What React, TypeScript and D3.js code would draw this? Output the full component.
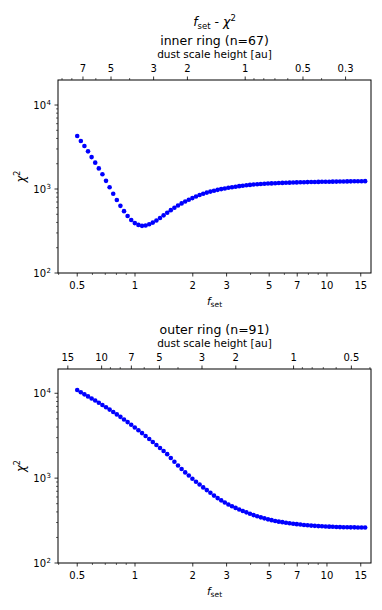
import * as d3 from "d3";

// model grid of the settling parameter
const fSet = [
  0.5, 0.5221, 0.5451, 0.5691, 0.5942, 0.6204, 0.6478, 0.6764, 0.7063, 0.7374,
  0.77, 0.804, 0.8394, 0.8765, 0.9152, 0.9556, 0.9976, 1.0417, 1.0877, 1.1357,
  1.1858, 1.2381, 1.2927, 1.3497, 1.4093, 1.4714, 1.5364, 1.6041, 1.6749, 1.7488,
  1.826, 1.9066, 1.9907, 2.0784, 2.1701, 2.2659, 2.3659, 2.4702, 2.5792, 2.693,
  2.8117, 2.9358, 3.0653, 3.2006, 3.3418, 3.4892, 3.6432, 3.8039, 3.9716, 4.1469,
  4.3298, 4.5209, 4.7202, 4.9285, 5.1459, 5.373, 5.61, 5.8575, 6.1159, 6.3858,
  6.6675, 6.9617, 7.2688, 7.5895, 7.9245, 8.2741, 8.6391, 9.0203, 9.4182, 9.8338,
  10.268, 10.721, 11.193, 11.687, 12.203, 12.741, 13.304, 13.891, 14.503, 15.143,
  15.811,
];

const chiInner = [
  4280, 3730, 3250, 2810, 2400, 2060, 1760, 1500, 1250, 1050,
  880, 740, 630, 545, 478, 428, 393, 374, 364, 368,
  380, 398, 422, 452, 486, 522, 560, 598, 636, 674,
  710, 746, 780, 815, 848, 878, 906, 932, 955, 977,
  997, 1016, 1034, 1050, 1066, 1081, 1095, 1108, 1120, 1131,
  1140, 1148, 1155, 1161, 1167, 1173, 1178, 1183, 1187, 1191,
  1195, 1198, 1202, 1205, 1208, 1211, 1213, 1215, 1218, 1220,
  1222, 1224, 1226, 1228, 1230, 1232, 1234, 1235, 1237, 1238,
  1240,
];

const chiOuter = [
  10940, 10280, 9710, 9190, 8685, 8204, 7727, 7280, 6839, 6425,
  6020, 5640, 5272, 4912, 4577, 4254, 3954, 3664, 3395, 3140,
  2893, 2667, 2459, 2267, 2089, 1916, 1728, 1558, 1410, 1282,
  1169, 1072, 985, 908, 840, 778, 723, 674, 623, 582,
  547, 516, 490, 467, 446, 427, 410, 395, 380, 367,
  355, 345, 336, 327, 320, 313, 307, 303, 298, 294,
  290, 287, 284, 280, 278, 276, 274, 272, 271, 269,
  268, 267, 266, 265, 264, 264, 263, 263, 262, 262,
  262,
];

// dust scale height [au] = const / f_set
const innerHConst = 3.75;
const outerHConst = 6.7;

const bottomTicks = [0.5, 1, 2, 3, 5, 7, 10, 15];
const bottomMinor = [0.4, 0.6, 0.7, 0.8, 0.9, 4, 6, 8, 9];
const innerTopTicks = [7, 5, 3, 2, 1, 0.5, 0.3];
const outerTopTicks = [15, 10, 7, 5, 3, 2, 1, 0.5];
const topMinor = [9, 8, 6, 4, 0.9, 0.8, 0.7, 0.6, 0.4];
const yMajor = [100, 1000, 10000];
const yExp = ["2", "3", "4"];

const W = 382;
const H = 610;
const left = 58;
const right = 371;
const font = "DejaVu Sans, sans-serif";

function Panel({ top, bottom, yMax, chi, hConst, topTicks, title }) {
  const x = d3.scaleLog().domain([0.397, 16.96]).range([left, right]);
  const y = d3.scaleLog().domain([100, yMax]).range([bottom, top]);
  const yMinor = y.ticks().filter((v) => !yMajor.includes(v));
  const cx = (left + right) / 2;
  const inX = (h) => x(hConst / h);
  const inside = (px) => px >= left - 0.5 && px <= right + 0.5;

  return (
    <g>
      {/* data */}
      {fSet.map((f, i) => (
        <circle key={i} cx={x(f)} cy={y(chi[i])} r={2.3} fill="#0000ff" />
      ))}

      {/* frame */}
      <rect x={left} y={top} width={right - left} height={bottom - top} fill="none" stroke="#000" strokeWidth={1} />

      {/* bottom axis */}
      {bottomTicks.map((v) => (
        <g key={"b" + v}>
          <line x1={x(v)} x2={x(v)} y1={bottom} y2={bottom + 3.5} stroke="#000" strokeWidth={0.8} />
          <text x={x(v)} y={bottom + 16} textAnchor="middle" fontSize={10} fontFamily={font}>{v}</text>
        </g>
      ))}
      {bottomMinor.filter((v) => inside(x(v))).map((v) => (
        <line key={"bm" + v} x1={x(v)} x2={x(v)} y1={bottom} y2={bottom + 2} stroke="#000" strokeWidth={0.6} />
      ))}
      <text x={cx} y={bottom + 32} textAnchor="middle" fontSize={10.5} fontFamily={font}>
        <tspan fontStyle="italic">f</tspan>
        <tspan fontSize={7.5} dy={2}>set</tspan>
      </text>

      {/* left axis */}
      {yMajor.map((v, i) => (
        <g key={"y" + v}>
          <line x1={left - 3.5} x2={left} y1={y(v)} y2={y(v)} stroke="#000" strokeWidth={0.8} />
          <text x={left - 12} y={y(v) + 3.5} textAnchor="end" fontSize={10} fontFamily={font}>10</text>
          <text x={left - 11.5} y={y(v) - 0.5} textAnchor="start" fontSize={7} fontFamily={font}>{yExp[i]}</text>
        </g>
      ))}
      {yMinor.map((v) => (
        <line key={"ym" + v} x1={left - 2} x2={left} y1={y(v)} y2={y(v)} stroke="#000" strokeWidth={0.6} />
      ))}
      <text transform={`translate(25,${(top + bottom) / 2}) rotate(-90)`} textAnchor="middle" fontSize={11.5} fontFamily={font}>
        <tspan fontStyle="italic">χ</tspan>
        <tspan fontSize={8} dy={-5}>2</tspan>
      </text>

      {/* top axis: dust scale height */}
      {topTicks.map((h) => (
        <g key={"t" + h}>
          <line x1={inX(h)} x2={inX(h)} y1={top} y2={top - 3.5} stroke="#000" strokeWidth={0.8} />
          <text x={inX(h)} y={top - 8} textAnchor="middle" fontSize={10} fontFamily={font}>{h}</text>
        </g>
      ))}
      {topMinor.filter((h) => inside(inX(h))).map((h) => (
        <line key={"tm" + h} x1={inX(h)} x2={inX(h)} y1={top} y2={top - 2} stroke="#000" strokeWidth={0.6} />
      ))}
      <text x={cx} y={top - 22} textAnchor="middle" fontSize={10.5} fontFamily={font}>dust scale height [au]</text>
      <text x={cx} y={top - 35} textAnchor="middle" fontSize={12.5} fontFamily={font}>{title}</text>
    </g>
  );
}

export default function App() {
  const cx = (left + right) / 2;
  return (
    <svg width={W} height={H} style={{ position: "absolute", left: 0, top: 0, background: "#fff" }}>
      <text x={cx} y={26} textAnchor="middle" fontSize={12.5} fontFamily={font}>
        <tspan fontStyle="italic">f</tspan>
        <tspan fontSize={8.5} dy={2.5}>set</tspan>
        <tspan dy={-2.5}> - </tspan>
        <tspan fontStyle="italic">χ</tspan>
        <tspan fontSize={8.5} dy={-5}>2</tspan>
      </text>
      <Panel top={80} bottom={273} yMax={19860} chi={chiInner} hConst={innerHConst} topTicks={innerTopTicks} title="inner ring (n=67)" />
      <Panel top={369} bottom={563} yMax={19320} chi={chiOuter} hConst={outerHConst} topTicks={outerTopTicks} title="outer ring (n=91)" />
    </svg>
  );
}
